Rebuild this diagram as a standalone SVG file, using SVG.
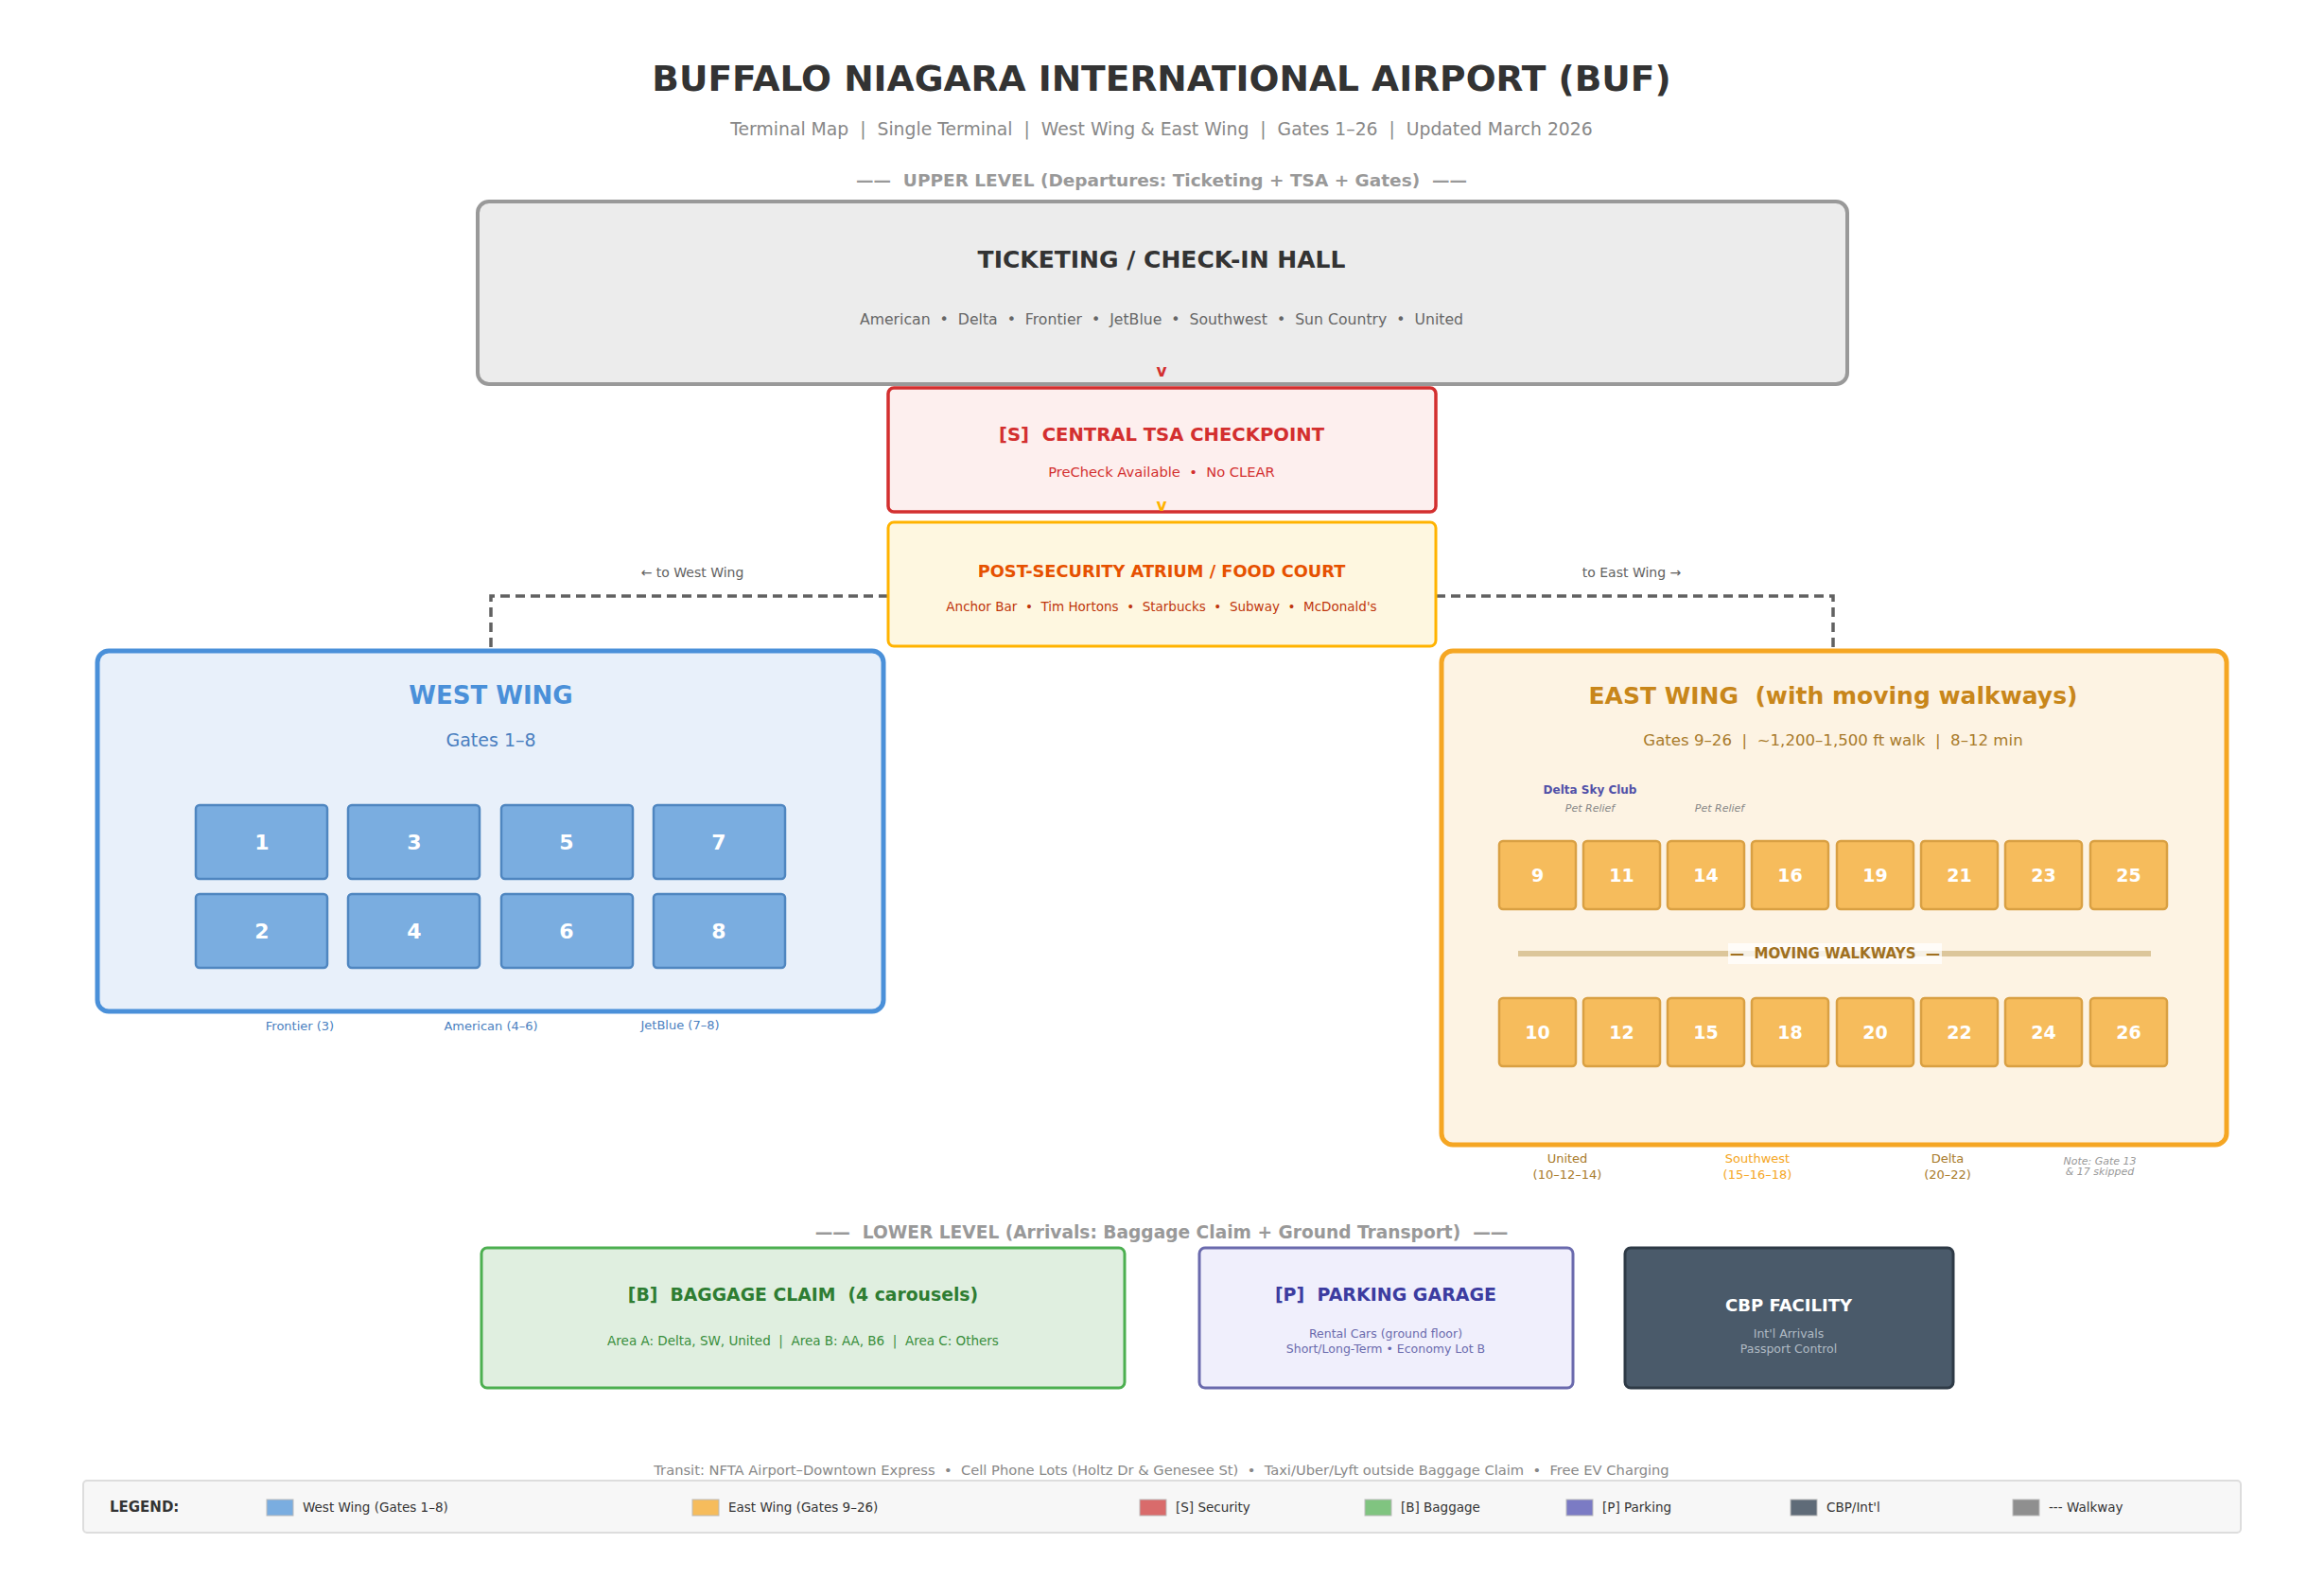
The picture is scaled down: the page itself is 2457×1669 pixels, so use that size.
<svg xmlns="http://www.w3.org/2000/svg" width="2457" height="1669" viewBox="0 0 2457 1669">
<style>
text{font-family:"DejaVu Sans","Liberation Sans",sans-serif;dominant-baseline:central;text-anchor:middle;white-space:pre}
.b{font-weight:bold}
.gw{fill:#7aade0;stroke:#4f86c0;stroke-width:2.5}
.ge{fill:#f6bc5c;stroke:#d9a043;stroke-width:2.5}
.gn{fill:#fff;font-weight:bold}
.walk{fill:none;stroke:#616161;stroke-width:3.5;stroke-dasharray:10 6}
.lg{font-size:13.5px;fill:#333;text-anchor:start}
.st{text-anchor:start}
.it{font-style:italic}
</style>
<rect width="2457" height="1669" fill="#fff"/>
<text x="1228" y="83" class="b" font-size="37.6" fill="#333">BUFFALO NIAGARA INTERNATIONAL AIRPORT (BUF)</text>
<text x="1228" y="136" font-size="18.8" fill="#888">Terminal Map  |  Single Terminal  |  West Wing &amp; East Wing  |  Gates 1–26  |  Updated March 2026</text>
<text x="1228" y="190" class="b" font-size="18.5" fill="#999">——  UPPER LEVEL (Departures: Ticketing + TSA + Gates)  ——</text>

<g id="connectors">
<path class="walk" d="M939 630 H519 V700"/>
<path class="walk" d="M1518 630 H1938 V700"/>
<text x="732" y="605" font-size="14" fill="#616161">← to West Wing</text>
<text x="1725" y="605" font-size="14" fill="#616161">to East Wing →</text>
</g>

<g id="ticketing">
<rect x="505" y="213" width="1448" height="193" rx="12" fill="#ececec" stroke="#999" stroke-width="4"/>
<text x="1228" y="274" class="b" font-size="25" fill="#333">TICKETING / CHECK-IN HALL</text>
<text x="1228" y="337" font-size="15.7" fill="#666">American  •  Delta  •  Frontier  •  JetBlue  •  Southwest  •  Sun Country  •  United</text>
<text x="1228" y="392" class="b" font-size="17" fill="#d32f2f">v</text>
</g>

<g id="tsa">
<rect x="939" y="410" width="579" height="131" rx="6" fill="#fdefee" stroke="#d32f2f" stroke-width="3.5"/>
<text x="1228" y="459" class="b" font-size="19.6" fill="#d32f2f">[S]  CENTRAL TSA CHECKPOINT</text>
<text x="1228" y="498" font-size="14.7" fill="#d32f2f">PreCheck Available  •  No CLEAR</text>
<text x="1228" y="534" class="b" font-size="17" fill="#ffb300">v</text>
</g>

<g id="atrium">
<rect x="939" y="552" width="579" height="131" rx="6" fill="#fef7e0" stroke="#ffb300" stroke-width="3"/>
<text x="1228" y="603" class="b" font-size="17.8" fill="#e65100">POST-SECURITY ATRIUM / FOOD COURT</text>
<text x="1228" y="641" font-size="13.5" fill="#bf360c">Anchor Bar  •  Tim Hortons  •  Starbucks  •  Subway  •  McDonald's</text>
</g>

<g id="west-wing">
<rect x="103" y="688" width="831" height="381" rx="12" fill="#e8f0fa" stroke="#4a90d9" stroke-width="5"/>
<text x="519" y="735" class="b" font-size="26" fill="#4a90d9">WEST WING</text>
<text x="519" y="782" font-size="19" fill="#4a7fc0">Gates 1–8</text>
<rect class="gw" x="207" y="851" width="139" height="78" rx="4"/><text class="gn" x="277" y="890" font-size="22">1</text>
<rect class="gw" x="368" y="851" width="139" height="78" rx="4"/><text class="gn" x="438" y="890" font-size="22">3</text>
<rect class="gw" x="530" y="851" width="139" height="78" rx="4"/><text class="gn" x="599" y="890" font-size="22">5</text>
<rect class="gw" x="691" y="851" width="139" height="78" rx="4"/><text class="gn" x="760" y="890" font-size="22">7</text>
<rect class="gw" x="207" y="945" width="139" height="78" rx="4"/><text class="gn" x="277" y="984" font-size="22">2</text>
<rect class="gw" x="368" y="945" width="139" height="78" rx="4"/><text class="gn" x="438" y="984" font-size="22">4</text>
<rect class="gw" x="530" y="945" width="139" height="78" rx="4"/><text class="gn" x="599" y="984" font-size="22">6</text>
<rect class="gw" x="691" y="945" width="139" height="78" rx="4"/><text class="gn" x="760" y="984" font-size="22">8</text>
<text x="317" y="1084" font-size="13" fill="#4a7fc0">Frontier (3)</text>
<text x="519" y="1084" font-size="13" fill="#4a7fc0">American (4–6)</text>
<text x="719" y="1083" font-size="13" fill="#4a7fc0">JetBlue (7–8)</text>
</g>

<g id="east-wing">
<rect x="1524" y="688" width="830" height="522" rx="12" fill="#fdf3e3" stroke="#f5a623" stroke-width="5"/>
<text x="1938" y="735" class="b" font-size="25" fill="#c8861a">EAST WING  (with moving walkways)</text>
<text x="1938" y="782" font-size="16.6" fill="#a87a2a">Gates 9–26  |  ~1,200–1,500 ft walk  |  8–12 min</text>
<text x="1681" y="835" class="b" font-size="12" fill="#5050a8">Delta Sky Club</text>
<text x="1681" y="854" class="it" font-size="11" fill="#888">Pet Relief</text>
<text x="1818" y="854" class="it" font-size="11" fill="#888">Pet Relief</text>
<g>
<rect class="ge" x="1585" y="889" width="81" height="72" rx="4"/><text class="gn" x="1625.5" y="925" font-size="19">9</text>
<rect class="ge" x="1674" y="889" width="81" height="72" rx="4"/><text class="gn" x="1714.5" y="925" font-size="19">11</text>
<rect class="ge" x="1763" y="889" width="81" height="72" rx="4"/><text class="gn" x="1803.5" y="925" font-size="19">14</text>
<rect class="ge" x="1852" y="889" width="81" height="72" rx="4"/><text class="gn" x="1892.5" y="925" font-size="19">16</text>
<rect class="ge" x="1942" y="889" width="81" height="72" rx="4"/><text class="gn" x="1982.5" y="925" font-size="19">19</text>
<rect class="ge" x="2031" y="889" width="81" height="72" rx="4"/><text class="gn" x="2071.5" y="925" font-size="19">21</text>
<rect class="ge" x="2120" y="889" width="81" height="72" rx="4"/><text class="gn" x="2160.5" y="925" font-size="19">23</text>
<rect class="ge" x="2210" y="889" width="81" height="72" rx="4"/><text class="gn" x="2250.5" y="925" font-size="19">25</text>
</g>
<line x1="1605" y1="1008" x2="2274" y2="1008" stroke="#dcc69a" stroke-width="6"/>
<rect x="1827" y="997" width="226" height="22" fill="#fff" fill-opacity="0.75"/>
<text x="1940" y="1008" class="b" font-size="15" fill="#a07020">—  MOVING WALKWAYS  —</text>
<g>
<rect class="ge" x="1585" y="1055" width="81" height="72" rx="4"/><text class="gn" x="1625.5" y="1091" font-size="19">10</text>
<rect class="ge" x="1674" y="1055" width="81" height="72" rx="4"/><text class="gn" x="1714.5" y="1091" font-size="19">12</text>
<rect class="ge" x="1763" y="1055" width="81" height="72" rx="4"/><text class="gn" x="1803.5" y="1091" font-size="19">15</text>
<rect class="ge" x="1852" y="1055" width="81" height="72" rx="4"/><text class="gn" x="1892.5" y="1091" font-size="19">18</text>
<rect class="ge" x="1942" y="1055" width="81" height="72" rx="4"/><text class="gn" x="1982.5" y="1091" font-size="19">20</text>
<rect class="ge" x="2031" y="1055" width="81" height="72" rx="4"/><text class="gn" x="2071.5" y="1091" font-size="19">22</text>
<rect class="ge" x="2120" y="1055" width="81" height="72" rx="4"/><text class="gn" x="2160.5" y="1091" font-size="19">24</text>
<rect class="ge" x="2210" y="1055" width="81" height="72" rx="4"/><text class="gn" x="2250.5" y="1091" font-size="19">26</text>
</g>
<text x="1657" y="1224" font-size="13" fill="#a87a2a">United</text>
<text x="1657" y="1241" font-size="13" fill="#a87a2a">(10–12–14)</text>
<text x="1858" y="1224" font-size="13" fill="#f5a623">Southwest</text>
<text x="1858" y="1241" font-size="13" fill="#f5a623">(15–16–18)</text>
<text x="2059" y="1224" font-size="13" fill="#a87a2a">Delta</text>
<text x="2059" y="1241" font-size="13" fill="#a87a2a">(20–22)</text>
<text x="2220" y="1227" class="it" font-size="11" fill="#999">Note: Gate 13</text>
<text x="2220" y="1238" class="it" font-size="11" fill="#999">&amp; 17 skipped</text>
</g>

<text x="1228" y="1302" class="b" font-size="18.6" fill="#999">——  LOWER LEVEL (Arrivals: Baggage Claim + Ground Transport)  ——</text>

<g id="baggage">
<rect x="509" y="1319" width="680" height="148" rx="6" fill="#e0efe0" stroke="#4caf50" stroke-width="3"/>
<text x="849" y="1368" class="b" font-size="18.8" fill="#2e7d32">[B]  BAGGAGE CLAIM  (4 carousels)</text>
<text x="849" y="1417" font-size="13.5" fill="#388e3c">Area A: Delta, SW, United  |  Area B: AA, B6  |  Area C: Others</text>
</g>

<g id="parking">
<rect x="1268" y="1319" width="395" height="148" rx="6" fill="#f0effc" stroke="#6a6aad" stroke-width="3"/>
<text x="1465" y="1368" class="b" font-size="19" fill="#3c3ca0">[P]  PARKING GARAGE</text>
<text x="1465" y="1409" font-size="12.5" fill="#6a6aad">Rental Cars (ground floor)</text>
<text x="1465" y="1425" font-size="12.5" fill="#6a6aad">Short/Long-Term • Economy Lot B</text>
</g>

<g id="cbp">
<rect x="1718" y="1319" width="347" height="148" rx="6" fill="#4a5a6a" stroke="#2e3a46" stroke-width="3"/>
<text x="1891" y="1379" class="b" font-size="18" fill="#fff">CBP FACILITY</text>
<text x="1891" y="1409" font-size="12.5" fill="#b0bac4">Int'l Arrivals</text>
<text x="1891" y="1425" font-size="12.5" fill="#b0bac4">Passport Control</text>
</g>

<text x="1228" y="1553" font-size="14.7" fill="#888">Transit: NFTA Airport–Downtown Express  •  Cell Phone Lots (Holtz Dr &amp; Genesee St)  •  Taxi/Uber/Lyft outside Baggage Claim  •  Free EV Charging</text>

<g id="legend">
<rect x="88" y="1565" width="2281" height="55" rx="4" fill="#f7f7f7" stroke="#ddd" stroke-width="2"/>
<text x="116" y="1593" class="b st" font-size="15" fill="#333">LEGEND:</text>
<rect x="282" y="1585" width="28" height="17" fill="#7aade0" stroke="#bbb"/><text class="lg" x="320" y="1593">West Wing (Gates 1–8)</text>
<rect x="732" y="1585" width="28" height="17" fill="#f6bc5c" stroke="#bbb"/><text class="lg" x="770" y="1593">East Wing (Gates 9–26)</text>
<rect x="1205" y="1585" width="28" height="17" fill="#d96b6b" stroke="#bbb"/><text class="lg" x="1243" y="1593">[S] Security</text>
<rect x="1443" y="1585" width="28" height="17" fill="#80c480" stroke="#bbb"/><text class="lg" x="1481" y="1593">[B] Baggage</text>
<rect x="1656" y="1585" width="28" height="17" fill="#7b7bc4" stroke="#bbb"/><text class="lg" x="1694" y="1593">[P] Parking</text>
<rect x="1893" y="1585" width="28" height="17" fill="#5f6b78" stroke="#bbb"/><text class="lg" x="1931" y="1593">CBP/Int'l</text>
<rect x="2128" y="1585" width="28" height="17" fill="#8f8f8f" stroke="#bbb"/><text class="lg" x="2166" y="1593">--- Walkway</text>
</g>
</svg>
